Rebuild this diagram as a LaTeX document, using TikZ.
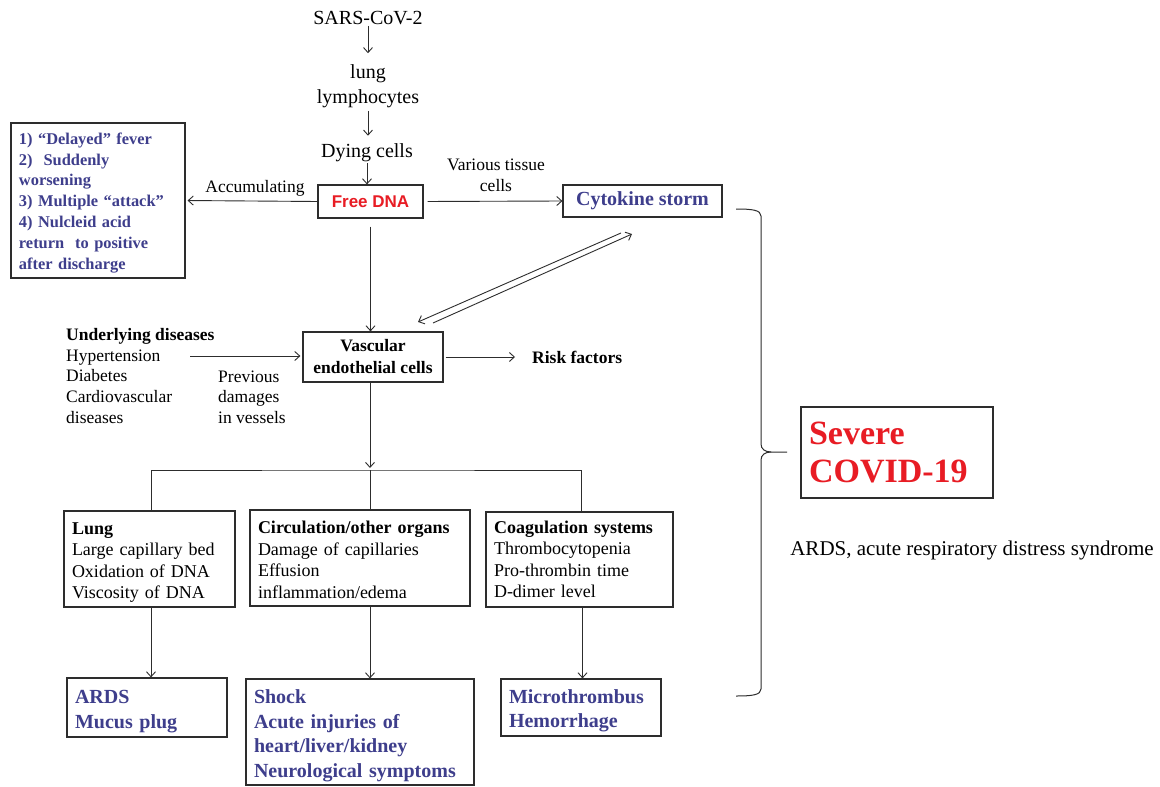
\documentclass[tikz,border=0pt]{standalone}
\usepackage{fontspec}
\setmainfont{Liberation Serif}
\newfontfamily\arialf{Liberation Sans}
\usetikzlibrary{arrows.meta}
\definecolor{dblue}{RGB}{62,62,140}
\definecolor{dred}{RGB}{232,28,36}
\definecolor{lgray}{RGB}{45,45,45}
\newcommand\myfs[2]{\fontsize{#1}{#2}\selectfont}
\begin{document}
\begin{tikzpicture}[x=1pt,y=-1pt,
  arr/.style={draw=lgray, line width=0.9pt, -{Straight Barb[length=5pt,width=9pt]}},
  ln/.style={draw=lgray, line width=0.9pt},
  box/.style={draw=lgray, line width=1.2pt, inner ysep=0pt, inner xsep=8pt, align=left},
  cbox/.style={draw=lgray, line width=1.2pt, inner sep=0pt, align=center},
  lbl/.style={inner sep=0pt, align=left},
  ttxt/.style={font=\myfs{20}{25}},
  stxt/.style={font=\myfs{17.5}{20.6}},
  btxt/.style={font=\myfs{18}{21.5}},
  bluet/.style={text=dblue, font=\bfseries\myfs{20}{24.5}}
]
\useasboundingbox[fill=white] (0,0) rectangle (1160,787);

% top chain
\node[lbl, ttxt] (sars) at (368,18) {SARS-CoV-2};
\node[lbl, ttxt, align=center] (lym) at (368,86) {lung\\lymphocytes};
\node[lbl, ttxt] (dying) at (367,153) {Dying cells};
\node[cbox, font=\arialf\bfseries\myfs{17}{20}, text=dred, minimum width=105pt, minimum height=33pt] (fdna) at (370.5,201.5) {Free DNA};

\draw[arr, shorten <=1pt, shorten >=11pt] (sars.south) -- (sars.south |- lym.north);
\draw[arr, shorten <=3pt, shorten >=8pt] (lym.south) -- (lym.south |- dying.north);
\draw[arr, shorten <=1pt] (dying.south) -- (dying.south |- fdna.north);

% left symptom box
\node[box, text=dblue, font=\bfseries\myfs{16.4}{20.8}, text width=158pt, minimum height=155pt] (sym) at (98,200.5)
  {\rule{0pt}{16pt}1) “Delayed” fever\\2)~ Suddenly\\worsening\\3) Multiple “attack”\\4) Nulcleid acid\\return~ to positive\\after discharge};
\draw[arr, shorten >=2pt] (fdna.west) -- (sym.east);
\node[lbl, stxt] (acc) at (255,188) {Accumulating};

% cytokine storm
\node[cbox, text=dblue, font=\bfseries\myfs{20}{24}, minimum width=159pt, minimum height=32pt] (cyto) at (642.5,201) {Cytokine storm};
\draw[arr, shorten <=4pt] (fdna.east) -- (cyto.west);
\node[lbl, stxt, align=center] (var) at (496,175) {Various tissue\\cells};

% vascular endothelial cells
\node[cbox, font=\bfseries\myfs{17.5}{22}, minimum width=140pt, minimum height=50pt] (vasc) at (373,357) {Vascular\\endothelial cells};
\draw[arr, shorten <=8pt] (fdna.south) -- (fdna.south |- vasc.north);

\coordinate (p1) at (621,233);
\coordinate (p2) at (418,322);
\coordinate (p3) at (433,323);
\coordinate (p4) at (632,234);
\draw[arr] (p1) -- (p2);
\draw[arr] (p3) -- (p4);

% underlying diseases
\node[lbl, stxt, anchor=west] (under) at (66,376) {\textbf{Underlying diseases}\\Hypertension\\Diabetes\\Cardiovascular\\diseases};
\node[lbl, stxt, anchor=west] (prev) at (218,397) {Previous\\damages\\in vessels};
\coordinate (ua) at (190,356);
\draw[arr, shorten >=2pt] (ua) -- (ua -| vasc.west);

\node[lbl, font=\bfseries\myfs{17.5}{22}, anchor=west] (risk) at (532,357) {Risk factors};
\draw[arr, shorten <=2pt, shorten >=17pt] (vasc.east) -- (risk.west);

% tree
\coordinate (jn) at (370,470);
\draw[arr, shorten >=2pt] (jn |- vasc.south) -- (jn);

\node[box, btxt, text width=155pt, minimum height=96pt] (lungb) at (149.5,559)
  {\rule{0pt}{19pt}\textbf{Lung}\\Large capillary bed\\Oxidation of DNA\\Viscosity of DNA};
\node[box, btxt, text width=204pt, minimum height=96pt] (circb) at (360,558)
  {\rule{0pt}{16pt}\textbf{Circulation/other organs}\\Damage of capillaries\\Effusion\\inflammation/edema};
\node[box, btxt, text width=171pt, minimum height=95pt] (coagb) at (579.5,559.5)
  {\textbf{Coagulation systems}\\Thrombocytopenia\\Pro-thrombin time\\D-dimer level};

\draw[ln] ([xshift=1.5pt]lungb.north) |- (jn) -| ([xshift=1.5pt]coagb.north);
\draw[ln] (jn) -- (jn |- circb.north);

% outcome boxes
\node[box, bluet, text width=144pt, minimum height=59pt] (ardsb) at (147,707.5) {\rule{0pt}{21pt}ARDS\\Mucus plug};
\node[box, bluet, text width=212pt, minimum height=106pt] (shockb) at (360,732)
  {\rule{0pt}{21.5pt}Shock\\Acute injuries of\\heart/liver/kidney\\Neurological symptoms};
\node[box, bluet, text width=144pt, minimum height=57pt] (microb) at (581,707.5) {\rule{0pt}{20pt}Microthrombus\\Hemorrhage};

\draw[arr] ([xshift=1.5pt]lungb.south) -- ([xshift=1.5pt]lungb.south |- ardsb.north);
\draw[arr] (jn |- circb.south) -- (jn |- shockb.north);
\draw[arr] ([xshift=3pt]coagb.south) -- ([xshift=3pt]coagb.south |- microb.north);

% brace
\draw[lgray, line width=1pt] (736,209) .. controls (752,209) and (761,210) .. (761,216) -- (761,444)
  .. controls (761,449) and (765,452) .. (771,452) -- (787,452);
\draw[lgray, line width=1pt] (771,452) .. controls (765,452) and (761,455) .. (761,460) -- (761,689)
  .. controls (761,695) and (752,696) .. (736,696);

% severe covid
\node[draw=lgray, line width=2.5pt, text=dred, font=\bfseries\myfs{34}{38}, align=left, inner xsep=8pt,
  text width=176pt, minimum height=91pt] (sev) at (897,452.5) {Severe\\COVID-19};
\node[lbl, font=\myfs{21}{25}] (note) at (972,550) {ARDS, acute respiratory distress syndrome};
\end{tikzpicture}
\end{document}
